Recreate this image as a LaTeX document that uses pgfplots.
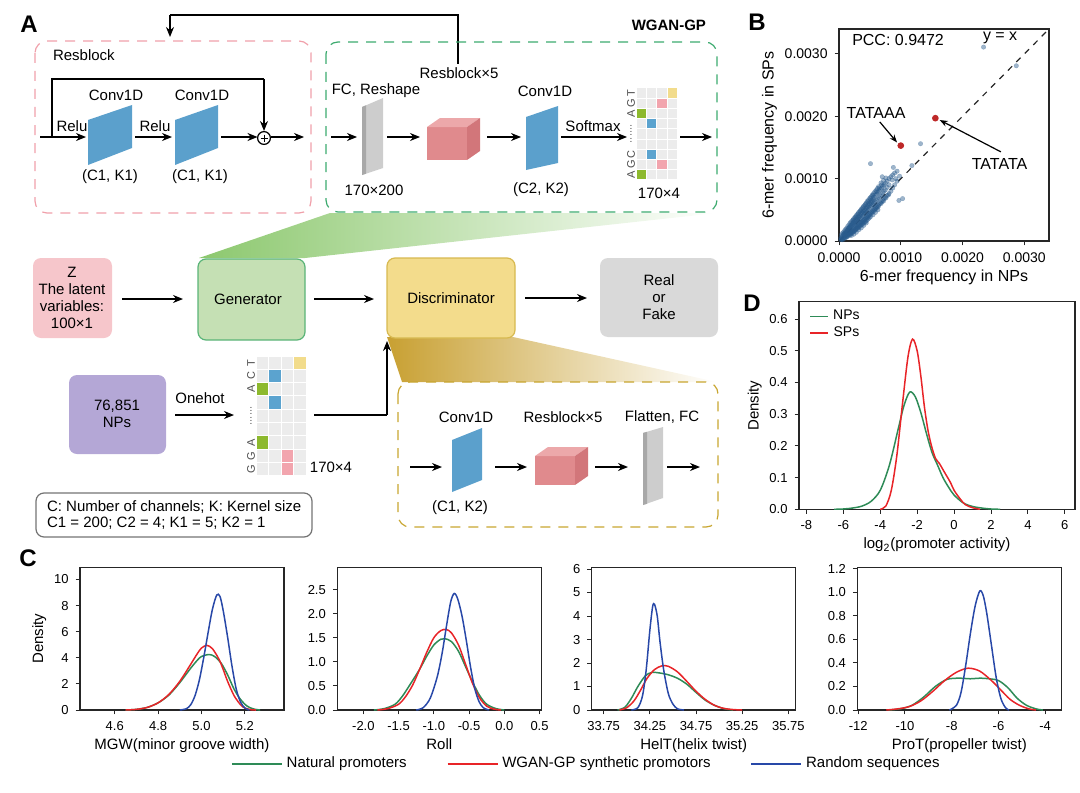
\documentclass[border=0pt]{standalone}
\usepackage{pgfplots}
\pgfplotsset{compat=1.18}
\usepackage{fontspec}
\setmainfont{Liberation Sans}
\usetikzlibrary{arrows.meta}

\definecolor{cblue}{RGB}{91,160,204}
\definecolor{cpink}{RGB}{224,138,141}
\definecolor{cpinktop}{RGB}{236,168,170}
\definecolor{cpinkside}{RGB}{210,118,122}
\definecolor{cgray}{RGB}{205,205,205}
\definecolor{cgrayd}{RGB}{168,168,168}
\definecolor{resbox}{RGB}{240,160,170}
\definecolor{wganbox}{RGB}{60,170,110}
\definecolor{discbox}{RGB}{200,166,48}
\definecolor{zfill}{RGB}{246,198,203}
\definecolor{genfill}{RGB}{197,224,180}
\definecolor{genline}{RGB}{90,180,120}
\definecolor{discfill}{RGB}{243,220,140}
\definecolor{discline}{RGB}{215,185,80}
\definecolor{rffill}{RGB}{217,217,217}
\definecolor{npfill}{RGB}{180,167,214}
\definecolor{mA}{RGB}{141,185,46}
\definecolor{mC}{RGB}{91,163,207}
\definecolor{mG}{RGB}{242,165,174}
\definecolor{mT}{RGB}{242,220,140}
\definecolor{mcell}{RGB}{236,236,236}
\definecolor{wedgeg}{RGB}{140,200,110}
\definecolor{wedgey}{RGB}{200,160,50}
\definecolor{lgreen}{RGB}{46,139,87}
\definecolor{lred}{RGB}{232,36,40}
\definecolor{lblue}{RGB}{40,72,168}
\definecolor{ptblue}{RGB}{40,90,140}
\definecolor{ptred}{RGB}{190,40,40}

\newcommand{\ftsz}{\fontsize{7.5}{8.5}\selectfont}
\newcommand{\cube}[4]{%
  \fill[cpink] (#1,#2) rectangle ++(#3,#4);
  \fill[cpinktop] (#1,#2) -- ++(13,-9) -- ++(#3,0) -- ++(-13,9) -- cycle;
  \fill[cpinkside] (#1+#3,#2) -- ++(13,-9) -- ++(0,#4) -- ++(-13,9) -- cycle;}
% x0 y0 cw rh letters(row/letter) cells(row/col/color)
\newcommand{\onehot}[6]{%
  \foreach \r in {0,...,8}{\foreach \c in {0,...,3}{%
    \fill[mcell] ({#1+\c*#3+0.5},{#2+\r*#4+0.5}) rectangle ++({#3-1},{#4-1});}}
  \foreach \r/\c/\col in {#6}{%
    \fill[\col] ({#1+\c*#3+0.5},{#2+\r*#4+0.5}) rectangle ++({#3-1},{#4-1});}
  \foreach \r/\l in {#5}{%
    \node[rotate=90, text=black!70, font=\fontsize{5.5}{6}\selectfont, inner sep=0pt] at ({#1-5},{#2+(\r+0.5)*#4}) {\l};}
  \node[rotate=90, text=black!60, font=\fontsize{5.5}{6}\selectfont, inner sep=0pt] at ({#1-5},{#2+4.5*#4}) {......};}

\pgfplotsset{
  panel/.style={scale only axis, anchor=south west,
    axis line style={line width=0.6pt, black!85},
    every tick/.style={black!85, line width=0.5pt},
    tick align=outside, tick pos=left, major tick length=2.2pt,
    ticklabel style={font=\fontsize{6.5}{7}\selectfont},
    label style={font=\fontsize{7.5}{9}\selectfont},
    /pgf/number format/assume math mode=true,
    xlabel style={yshift=3pt}, ylabel style={yshift=-3pt},
    every axis plot/.append style={line width=0.75pt, smooth, tension=0.5}},
}

\begin{document}
\begin{tikzpicture}[x=0.5pt,y=-0.5pt,
  arr/.style={-{Stealth[length=5pt,width=4pt]}, line width=0.65pt},
  ln/.style={line width=0.65pt}, ft/.style={font=\ftsz}]
\path[use as bounding box] (0,0) rectangle (1080,792);

% ---------- panel letters
\node[font=\fontsize{12}{14}\selectfont\bfseries] at (29,24) {A};
\node[font=\fontsize{12}{14}\selectfont\bfseries] at (757,22) {B};
\node[font=\fontsize{12}{14}\selectfont\bfseries] at (28,558) {C};
\node[font=\fontsize{12}{14}\selectfont\bfseries] at (752,303) {D};

% ---------- wedges
\shade[left color=wedgeg, right color=white] (199,258) -- (330,213) -- (717,213) -- (305,258) -- cycle;
\shade[left color=wedgey, right color=white] (387,337) -- (513,337) -- (717,382) -- (402,382) -- cycle;

% ---------- Resblock box
\draw[resbox, line width=0.6pt, dash pattern=on 5pt off 4pt, rounded corners=6pt] (35,41) rectangle (311,213);
\node[ft, anchor=west] at (46,55) {Resblock};
\draw[arr] (40,137) -- (86,137);
\draw[ln] (52,137) -- (52,79) -- (264,79);
\draw[arr] (264,79) -- (264,131);
\fill[cblue] (88,120) -- (132,105) -- (132,148) -- (88,165) -- cycle;
\fill[cblue] (175,120) -- (218,105) -- (218,148) -- (175,165) -- cycle;
\draw[arr] (135,137) -- (172,137);
\draw[arr] (221,137) -- (257.5,137);
\draw[line width=0.6pt] (264,138) circle (3.2pt);
\draw[line width=0.5pt] (260.5,138) -- (267.5,138) (264,134.5) -- (264,141.5);
\draw[arr] (270.5,137) -- (304,137);
\node[ft] at (72,126) {Relu};
\node[ft] at (155,126) {Relu};
\node[ft] at (116,95) {Conv1D};
\node[ft] at (202,95) {Conv1D};
\node[ft] at (110,177) {(C1, K1)};
\node[ft] at (200,177) {(C1, K1)};

% ---------- feedback arrow
\draw[ln] (458,64) -- (458,15) -- (170,15);
\draw[arr] (170,15) -- (170,37);

% ---------- WGAN-GP box
\draw[wganbox, line width=0.6pt, dash pattern=on 5pt off 4pt, rounded corners=6pt] (326,42) rectangle (717,212);
\node[font=\fontsize{7.5}{9}\selectfont\bfseries, anchor=east] at (713,25) {WGAN-GP};
\draw[arr] (331,137) -- (357,137);
\fill[cgray] (362,107) -- (383,98) -- (383,168) -- (362,175) -- cycle;
\fill[cgrayd] (362,107) -- (366,105.3) -- (366,173.7) -- (362,175) -- cycle;
\node[ft] at (376,91) {FC, Reshape};
\node[ft] at (374,190) {170×200};
\draw[arr] (387,137) -- (420,137);
\cube{427}{127}{40}{33}
\node[ft] at (459,73) {Resblock×5};
\draw[arr] (487,137) -- (521,137);
\fill[cblue] (526,117) -- (558,106) -- (558,163) -- (526,170) -- cycle;
\node[ft] at (545,91) {Conv1D};
\node[ft] at (541,190) {(C2, K2)};
\draw[arr] (561,137) -- (627,137);
\node[ft] at (593,126) {Softmax};
\onehot{636}{88}{10.4}{10.2}{0/T,1/G,2/A,6/C,7/G,8/A}{0/3/mT,1/2/mG,2/0/mA,3/1/mC,6/1/mC,7/2/mG,8/0/mA}
\node[ft] at (659,193) {170×4};
\draw[arr] (680,137) -- (712,137);

% ---------- main row
\fill[zfill, rounded corners=4pt] (33,258) rectangle (112,338);
\node[ft, align=center] at (72,298) {Z\\The latent\\variables:\\100×1};
\draw[arr] (122,299) -- (183,299);
\filldraw[fill=genfill, draw=genline, line width=0.6pt, rounded corners=4pt] (198,259) rectangle (305,340);
\node[ft] at (248,299) {Generator};
\draw[arr] (314,299) -- (374,299);
\filldraw[fill=discfill, draw=discline, line width=0.6pt, rounded corners=4pt] (387,258) rectangle (515,338);
\node[ft] at (451,298) {Discriminator};
\draw[arr] (525,298) -- (587,298);
\fill[rffill, rounded corners=4pt] (600,258) rectangle (718,337);
\node[ft, align=center] at (659,297) {Real\\or\\Fake};

\fill[npfill, rounded corners=4pt] (69,375) rectangle (166,454);
\node[ft, align=center] at (117,414) {76,851\\NPs};
\node[ft] at (200,398) {Onehot};
\draw[arr] (175,415) -- (234,415);
\onehot{256}{356}{12.6}{13.33}{0/T,1/C,2/A,6/A,7/G,8/G}{0/3/mT,1/1/mC,2/0/mA,3/1/mC,6/0/mA,7/2/mG,8/2/mG}
\node[ft] at (331,467) {170×4};
\draw[ln] (314,415) -- (387,415);
\draw[arr] (387,415) -- (387,341);

\draw[black!55, line width=0.6pt, rounded corners=4pt] (36,493) rectangle (312,537);
\node[ft, anchor=west] at (40,507) {C: Number of channels; K: Kernel size};
\node[ft, anchor=west] at (40,523) {C1 = 200; C2 = 4; K1 = 5; K2 = 1};

% ---------- discriminator detail box
\draw[discbox, line width=0.6pt, dash pattern=on 5pt off 4pt, rounded corners=6pt] (398,382) rectangle (718,527);
\draw[arr] (410,467) -- (442,467);
\fill[cblue] (452,440) -- (482,428) -- (482,480) -- (452,492) -- cycle;
\node[ft] at (466,417) {Conv1D};
\node[ft] at (460,508) {(C1, K2)};
\draw[arr] (495,467) -- (527,467);
\cube{535}{456}{40}{29}
\node[ft] at (563,417) {Resblock×5};
\draw[arr] (595,467) -- (628,467);
\fill[cgray] (643,433) -- (663,427) -- (663,498) -- (643,505) -- cycle;
\fill[cgrayd] (643,433) -- (647,431.8) -- (647,503.8) -- (643,505) -- cycle;
\node[ft] at (662,417) {Flatten, FC};
\draw[arr] (667,467) -- (700,467);

% ---------- panel B
\begin{axis}[panel, at={(419.5pt,-120.5pt)}, width=105pt, height=106pt,
  xmin=0, xmax=0.0034, ymin=0, ymax=0.0034, scaled ticks=false,
  xtick={0,0.001,0.002,0.003}, ytick={0,0.001,0.002,0.003},
  xticklabels={0.0000,0.0010,0.0020,0.0030}, yticklabels={0.0000,0.0010,0.0020,0.0030},
  ticklabel style={font=\fontsize{7}{8}\selectfont},
  label style={font=\fontsize{8}{9}\selectfont},
  xlabel={6-mer frequency in NPs}, ylabel={6-mer frequency in SPs},
  every axis plot/.append style={line width=0.5pt}, clip=false]
\addplot[only marks, mark=*, mark size=1.15pt, ptblue, opacity=0.45, mark options={line width=0.1pt}] coordinates {
(0.3e-4,0.2e-4)(0.3e-4,0.5e-4)(0.5e-4,0.3e-4)(0.5e-4,0.8e-4)(0.5e-4,0.6e-4)(0.7e-4,0.5e-4)(0.7e-4,1.0e-4)
(0.9e-4,0.6e-4)(0.9e-4,1.2e-4)(0.9e-4,0.9e-4)(1.1e-4,0.8e-4)(1.1e-4,1.5e-4)(1.1e-4,1.1e-4)
(1.3e-4,1.0e-4)(1.3e-4,1.7e-4)(1.3e-4,1.3e-4)(1.3e-4,0.7e-4)(1.5e-4,1.2e-4)(1.5e-4,2.0e-4)(1.5e-4,1.6e-4)
(1.7e-4,1.3e-4)(1.7e-4,2.2e-4)(1.7e-4,1.8e-4)(1.7e-4,0.9e-4)(1.9e-4,1.5e-4)(1.9e-4,2.5e-4)(1.9e-4,2.0e-4)(1.9e-4,1.1e-4)
(2.1e-4,1.7e-4)(2.1e-4,2.8e-4)(2.1e-4,2.2e-4)(2.1e-4,1.3e-4)(2.3e-4,1.9e-4)(2.3e-4,3.0e-4)(2.3e-4,2.4e-4)(2.3e-4,1.5e-4)(2.3e-4,3.4e-4)
(2.5e-4,2.1e-4)(2.5e-4,3.2e-4)(2.5e-4,2.6e-4)(2.5e-4,1.6e-4)(2.7e-4,2.3e-4)(2.7e-4,3.5e-4)(2.7e-4,2.8e-4)(2.7e-4,1.8e-4)(2.7e-4,3.9e-4)
(2.9e-4,2.4e-4)(2.9e-4,3.7e-4)(2.9e-4,3.0e-4)(2.9e-4,2.0e-4)(3.1e-4,2.6e-4)(3.1e-4,3.9e-4)(3.1e-4,3.2e-4)(3.1e-4,2.1e-4)(3.1e-4,4.4e-4)
(3.3e-4,2.8e-4)(3.3e-4,4.1e-4)(3.3e-4,3.4e-4)(3.3e-4,2.3e-4)(3.5e-4,3.0e-4)(3.5e-4,4.4e-4)(3.5e-4,3.6e-4)(3.5e-4,2.5e-4)(3.5e-4,4.9e-4)
(3.7e-4,3.1e-4)(3.7e-4,4.6e-4)(3.7e-4,3.8e-4)(3.7e-4,2.6e-4)(3.9e-4,3.3e-4)(3.9e-4,4.8e-4)(3.9e-4,4.0e-4)(3.9e-4,2.8e-4)(3.9e-4,5.4e-4)
(4.1e-4,3.5e-4)(4.1e-4,5.0e-4)(4.1e-4,4.3e-4)(4.1e-4,3.0e-4)(4.3e-4,3.7e-4)(4.3e-4,5.3e-4)(4.3e-4,4.5e-4)(4.3e-4,3.1e-4)(4.3e-4,5.9e-4)
(4.5e-4,3.9e-4)(4.5e-4,5.5e-4)(4.5e-4,4.7e-4)(4.5e-4,3.3e-4)(4.7e-4,4.1e-4)(4.7e-4,5.8e-4)(4.7e-4,4.9e-4)(4.7e-4,3.5e-4)(4.7e-4,6.3e-4)
(4.9e-4,4.3e-4)(4.9e-4,6.0e-4)(4.9e-4,5.1e-4)(4.9e-4,3.7e-4)(5.1e-4,4.5e-4)(5.1e-4,6.3e-4)(5.1e-4,5.4e-4)(5.1e-4,3.9e-4)(5.1e-4,6.8e-4)
(5.3e-4,4.7e-4)(5.3e-4,6.5e-4)(5.3e-4,5.6e-4)(5.5e-4,4.9e-4)(5.5e-4,6.8e-4)(5.5e-4,5.8e-4)(5.5e-4,4.2e-4)(5.5e-4,7.3e-4)
(5.7e-4,5.1e-4)(5.7e-4,7.0e-4)(5.7e-4,6.0e-4)(5.9e-4,5.3e-4)(5.9e-4,7.3e-4)(5.9e-4,6.2e-4)(5.9e-4,4.6e-4)
(6.1e-4,5.5e-4)(6.1e-4,7.5e-4)(6.1e-4,6.5e-4)(6.1e-4,7.9e-4)(6.3e-4,5.7e-4)(6.3e-4,7.8e-4)(6.3e-4,6.7e-4)(6.3e-4,5.0e-4)
(6.5e-4,5.9e-4)(6.5e-4,8.0e-4)(6.5e-4,6.9e-4)(6.5e-4,8.5e-4)(6.7e-4,6.1e-4)(6.7e-4,8.3e-4)(6.7e-4,7.2e-4)
(6.9e-4,6.3e-4)(6.9e-4,8.5e-4)(6.9e-4,7.4e-4)(6.9e-4,9.0e-4)(7.1e-4,6.5e-4)(7.1e-4,8.8e-4)(7.1e-4,7.7e-4)
(7.3e-4,6.8e-4)(7.3e-4,9.0e-4)(7.3e-4,8.0e-4)(7.5e-4,7.0e-4)(7.5e-4,9.3e-4)(7.5e-4,8.2e-4)
(7.8e-4,7.3e-4)(7.8e-4,9.6e-4)(7.8e-4,8.6e-4)(8.1e-4,7.6e-4)(8.1e-4,10.0e-4)(8.1e-4,9.0e-4)
(8.4e-4,8.0e-4)(8.4e-4,10.3e-4)(8.7e-4,8.5e-4)(8.7e-4,10.6e-4)(9.0e-4,9.0e-4)(9.0e-4,10.9e-4)
(9.4e-4,9.6e-4)(9.4e-4,11.2e-4)(9.8e-4,10.4e-4)
(0.4e-4,0.3e-4)(0.4e-4,1.0e-4)(0.6e-4,0.2e-4)(0.6e-4,1.3e-4)(0.8e-4,0.4e-4)(0.8e-4,1.5e-4)(0.8e-4,1.1e-4)
(1.0e-4,0.5e-4)(1.0e-4,1.8e-4)(1.0e-4,1.3e-4)(1.2e-4,0.6e-4)(1.2e-4,2.0e-4)(1.2e-4,1.4e-4)
(1.4e-4,0.8e-4)(1.4e-4,2.3e-4)(1.4e-4,1.8e-4)(1.6e-4,1.0e-4)(1.6e-4,2.6e-4)(1.6e-4,2.1e-4)
(1.8e-4,1.2e-4)(1.8e-4,2.9e-4)(1.8e-4,2.3e-4)(2.0e-4,1.3e-4)(2.0e-4,3.1e-4)(2.0e-4,2.5e-4)(2.0e-4,0.9e-4)
(2.2e-4,1.5e-4)(2.2e-4,3.3e-4)(2.2e-4,2.7e-4)(2.4e-4,1.6e-4)(2.4e-4,3.6e-4)(2.4e-4,2.9e-4)(2.4e-4,1.1e-4)
(2.6e-4,1.8e-4)(2.6e-4,3.8e-4)(2.6e-4,3.1e-4)(2.8e-4,2.0e-4)(2.8e-4,4.1e-4)(2.8e-4,3.3e-4)(2.8e-4,1.4e-4)
(3.0e-4,2.2e-4)(3.0e-4,4.3e-4)(3.0e-4,3.5e-4)(3.2e-4,2.4e-4)(3.2e-4,4.6e-4)(3.2e-4,3.8e-4)(3.2e-4,1.8e-4)
(3.4e-4,2.6e-4)(3.4e-4,4.8e-4)(3.4e-4,4.0e-4)(3.6e-4,2.8e-4)(3.6e-4,5.1e-4)(3.6e-4,4.2e-4)(3.6e-4,2.1e-4)
(3.8e-4,3.0e-4)(3.8e-4,5.3e-4)(3.8e-4,4.5e-4)(4.0e-4,3.2e-4)(4.0e-4,5.6e-4)(4.0e-4,4.7e-4)(4.0e-4,2.5e-4)
(4.2e-4,3.4e-4)(4.2e-4,5.8e-4)(4.2e-4,4.9e-4)(4.4e-4,3.6e-4)(4.4e-4,6.1e-4)(4.4e-4,5.2e-4)(4.4e-4,2.9e-4)
(4.6e-4,3.8e-4)(4.6e-4,6.4e-4)(4.6e-4,5.4e-4)(4.8e-4,4.0e-4)(4.8e-4,6.6e-4)(4.8e-4,5.6e-4)
(5.0e-4,4.2e-4)(5.0e-4,6.9e-4)(5.0e-4,5.9e-4)(5.2e-4,4.4e-4)(5.2e-4,7.1e-4)(5.2e-4,6.1e-4)
(5.4e-4,4.6e-4)(5.4e-4,7.4e-4)(5.4e-4,6.3e-4)(5.6e-4,4.8e-4)(5.6e-4,7.6e-4)(5.6e-4,6.6e-4)
(5.8e-4,5.0e-4)(5.8e-4,7.9e-4)(6.0e-4,5.2e-4)(6.0e-4,8.1e-4)(6.2e-4,5.4e-4)(6.2e-4,8.4e-4)
(6.4e-4,5.6e-4)(6.4e-4,8.7e-4)(6.8e-4,6.0e-4)(6.8e-4,9.3e-4)(7.2e-4,6.4e-4)(7.2e-4,9.7e-4)
(7.6e-4,6.9e-4)(7.6e-4,10.1e-4)(8.0e-4,7.4e-4)(8.6e-4,9.8e-4)(9.2e-4,10.0e-4)(8.8e-4,11.8e-4)(7.0e-4,10.3e-4)
(5.1e-4,12.4e-4)(10.3e-4,6.8e-4)(9.7e-4,6.5e-4)(13.2e-4,15.6e-4)(11.8e-4,12.1e-4)(23.4e-4,31.1e-4)(28.7e-4,28.1e-4)
};
\addplot[only marks, mark=*, mark size=1.4pt, ptred] coordinates {(0.00100,0.00153) (0.00156,0.00197)};
\addplot[black!85, dashed, line width=0.6pt, smooth=false] coordinates {(0,0) (0.0034,0.0034)};
\node[anchor=west, font=\fontsize{8}{9}\selectfont] at (axis cs:0.0001,0.00323) {PCC: 0.9472};
\node[anchor=east, font=\fontsize{8}{9}\selectfont] at (axis cs:0.00300,0.00326) {y = x};
\node[font=\fontsize{8}{9}\selectfont] at (axis cs:0.00060,0.00206) {TATAAA};
\node[font=\fontsize{8}{9}\selectfont] at (axis cs:0.00260,0.00124) {TATATA};
\draw[-{Stealth[length=4pt,width=3pt]}, line width=0.6pt] (axis cs:0.00066,0.00191) -- (axis cs:0.00094,0.00158);
\draw[-{Stealth[length=4pt,width=3pt]}, line width=0.6pt] (axis cs:0.00262,0.00143) -- (axis cs:0.00163,0.00194);
\end{axis}

% ---------- panel D
\begin{axis}[panel, at={(399.5pt,-254.65pt)}, width=138pt, height=103.8pt,
  xmin=-8.4, xmax=6.55, ymin=0, ymax=0.655,
  xtick={-8,-6,...,6}, ytick={0,0.1,...,0.6},
  yticklabel style={/pgf/number format/.cd, fixed, fixed zerofill, precision=1},
  xlabel={log\textsubscript{2}(promoter activity)}, ylabel={Density},
  legend style={at={(0.03,0.99)}, anchor=north west, draw=none, fill=none,
    font=\fontsize{7}{8}\selectfont, row sep=-2pt, inner sep=1pt},
  legend image code/.code={\draw[#1, line width=0.75pt] (0pt,0pt) -- (9pt,0pt);}]
\addplot[lgreen] coordinates {(-6.5,0)(-6,0.001)(-5.5,0.004)(-5,0.01)(-4.5,0.025)(-4,0.06)(-3.5,0.14)(-3,0.26)(-2.7,0.33)(-2.4,0.37)(-2.1,0.355)(-1.8,0.305)(-1.5,0.24)(-1.2,0.18)(-0.9,0.14)(-0.6,0.10)(-0.3,0.07)(0,0.045)(0.5,0.02)(1,0.009)(1.5,0.004)(2,0.001)(2.5,0)};
\addlegendentry{NPs}
\addplot[lred] coordinates {(-4.0,0)(-3.7,0.01)(-3.4,0.06)(-3.1,0.17)(-2.8,0.33)(-2.5,0.48)(-2.25,0.537)(-2.0,0.50)(-1.8,0.42)(-1.6,0.32)(-1.4,0.245)(-1.2,0.195)(-1.0,0.16)(-0.8,0.145)(-0.6,0.125)(-0.4,0.105)(-0.2,0.085)(0,0.06)(0.3,0.035)(0.6,0.015)(1.0,0.005)(1.4,0)};
\addlegendentry{SPs}
\end{axis}

% ---------- panel C1
\begin{axis}[panel, at={(40pt,-355pt)}, width=102pt, height=71.3pt,
  xmin=4.44, xmax=5.38, ymin=0, ymax=10.92,
  xtick={4.6,4.8,5.0,5.2}, ytick={0,2,...,10},
  xticklabel style={/pgf/number format/.cd, fixed, fixed zerofill, precision=1},
  xlabel={MGW(minor groove width)}, ylabel={Density}]
\addplot[lgreen] coordinates {(4.65,0)(4.70,0.05)(4.75,0.2)(4.80,0.55)(4.85,1.15)(4.90,2.1)(4.95,3.2)(4.98,3.8)(5.00,4.1)(5.035,4.25)(5.06,4.1)(5.09,3.6)(5.12,2.7)(5.15,1.6)(5.18,0.8)(5.21,0.3)(5.24,0.08)(5.27,0)};
\addplot[lred] coordinates {(4.65,0)(4.70,0.05)(4.75,0.2)(4.80,0.55)(4.85,1.2)(4.90,2.2)(4.95,3.5)(4.98,4.3)(5.00,4.75)(5.025,4.95)(5.05,4.7)(5.08,3.9)(5.10,3.1)(5.12,2.2)(5.15,1.1)(5.18,0.4)(5.20,0.15)(5.23,0.02)(5.25,0)};
\addplot[lblue] coordinates {(4.90,0)(4.93,0.1)(4.95,0.4)(4.97,1.1)(4.99,2.3)(5.01,4.0)(5.03,5.9)(5.05,7.7)(5.07,8.8)(5.085,8.7)(5.10,7.6)(5.12,5.6)(5.14,3.4)(5.16,1.6)(5.18,0.6)(5.20,0.15)(5.22,0)};
\end{axis}

% ---------- panel C2
\begin{axis}[panel, at={(168.65pt,-355pt)}, width=102pt, height=71.3pt,
  xmin=-2.37, xmax=0.525, ymin=0, ymax=2.96,
  xtick={-2,-1.5,...,0.5}, ytick={0,0.5,...,2.5},
  xticklabel style={/pgf/number format/.cd, fixed, fixed zerofill, precision=1},
  yticklabel style={/pgf/number format/.cd, fixed, fixed zerofill, precision=1},
  xlabel={Roll},
  legend style={at={(1.226,-0.377)}, anchor=center, legend columns=3, draw=none, fill=none,
    font=\fontsize{7.5}{9}\selectfont, /tikz/every even column/.append style={column sep=18pt}},
  legend image code/.code={\draw[#1, line width=0.75pt] (0pt,0pt) -- (25pt,0pt);}]
\addplot[lgreen] coordinates {(-1.85,0)(-1.7,0.03)(-1.55,0.12)(-1.45,0.28)(-1.35,0.5)(-1.2,0.85)(-1.1,1.12)(-1.0,1.35)(-0.9,1.47)(-0.84,1.48)(-0.75,1.42)(-0.65,1.22)(-0.55,0.9)(-0.45,0.58)(-0.35,0.3)(-0.25,0.12)(-0.12,0.03)(0.0,0)};
\addlegendentry{Natural promoters}
\addplot[lred] coordinates {(-1.8,0)(-1.65,0.03)(-1.5,0.12)(-1.4,0.28)(-1.3,0.52)(-1.2,0.85)(-1.1,1.2)(-1.0,1.5)(-0.9,1.65)(-0.82,1.67)(-0.75,1.6)(-0.65,1.35)(-0.55,0.95)(-0.45,0.55)(-0.35,0.25)(-0.25,0.08)(-0.15,0.02)(-0.05,0)};
\addlegendentry{WGAN-GP synthetic promotors}
\addplot[lblue] coordinates {(-1.25,0)(-1.15,0.05)(-1.05,0.25)(-0.95,0.7)(-0.88,1.2)(-0.82,1.75)(-0.76,2.25)(-0.71,2.42)(-0.66,2.3)(-0.60,1.95)(-0.54,1.45)(-0.48,0.9)(-0.42,0.45)(-0.36,0.18)(-0.30,0.05)(-0.22,0)};
\addlegendentry{Random sequences}
\end{axis}

% ---------- panel C3
\begin{axis}[panel, at={(295.85pt,-355pt)}, width=102pt, height=71.3pt,
  xmin=33.62, xmax=35.83, ymin=0, ymax=6.07,
  xtick={33.75,34.25,...,35.75}, ytick={0,1,...,6},
  xticklabel style={/pgf/number format/.cd, fixed, fixed zerofill, precision=2},
  xlabel={HelT(helix twist)}]
\addplot[lgreen] coordinates {(33.9,0)(33.98,0.12)(34.05,0.5)(34.12,1.0)(34.20,1.45)(34.27,1.6)(34.35,1.58)(34.45,1.5)(34.55,1.35)(34.65,1.1)(34.75,0.75)(34.85,0.42)(34.95,0.2)(35.05,0.06)(35.15,0)};
\addplot[lred] coordinates {(33.92,0)(34.00,0.1)(34.08,0.4)(34.15,0.85)(34.22,1.35)(34.30,1.72)(34.38,1.88)(34.45,1.86)(34.55,1.62)(34.65,1.22)(34.75,0.8)(34.85,0.45)(34.95,0.2)(35.05,0.07)(35.15,0.02)(35.25,0)};
\addplot[lblue] coordinates {(34.05,0)(34.12,0.1)(34.17,0.6)(34.21,1.7)(34.25,3.4)(34.28,4.4)(34.30,4.5)(34.33,4.0)(34.36,2.9)(34.40,1.7)(34.45,0.7)(34.50,0.25)(34.55,0.05)(34.62,0)};
\end{axis}

% ---------- panel C4
\begin{axis}[panel, at={(428.65pt,-355pt)}, width=102pt, height=71.3pt,
  xmin=-12.04, xmax=-3.31, ymin=0, ymax=1.21,
  xtick={-12,-10,...,-4}, ytick={0,0.2,...,1.2},
  yticklabel style={/pgf/number format/.cd, fixed, fixed zerofill, precision=1},
  xlabel={ProT(propeller twist)}]
\addplot[lgreen] coordinates {(-10.7,0)(-10.2,0.01)(-9.7,0.04)(-9.2,0.11)(-8.7,0.2)(-8.2,0.26)(-7.7,0.27)(-7.2,0.265)(-6.8,0.27)(-6.4,0.265)(-6.0,0.25)(-5.6,0.19)(-5.2,0.1)(-4.8,0.04)(-4.4,0.01)(-4.1,0)};
\addplot[lred] coordinates {(-10.8,0)(-10.3,0.01)(-9.8,0.03)(-9.3,0.08)(-8.8,0.16)(-8.3,0.25)(-7.8,0.32)(-7.3,0.355)(-6.8,0.33)(-6.3,0.25)(-5.9,0.17)(-5.5,0.09)(-5.1,0.04)(-4.7,0.01)(-4.4,0)};
\addplot[lblue] coordinates {(-8.1,0)(-7.8,0.04)(-7.6,0.15)(-7.4,0.38)(-7.2,0.65)(-7.0,0.88)(-6.8,1.01)(-6.65,0.97)(-6.5,0.82)(-6.3,0.55)(-6.1,0.28)(-5.9,0.1)(-5.7,0.02)(-5.55,0)};
\end{axis}

\end{tikzpicture}
\end{document}
